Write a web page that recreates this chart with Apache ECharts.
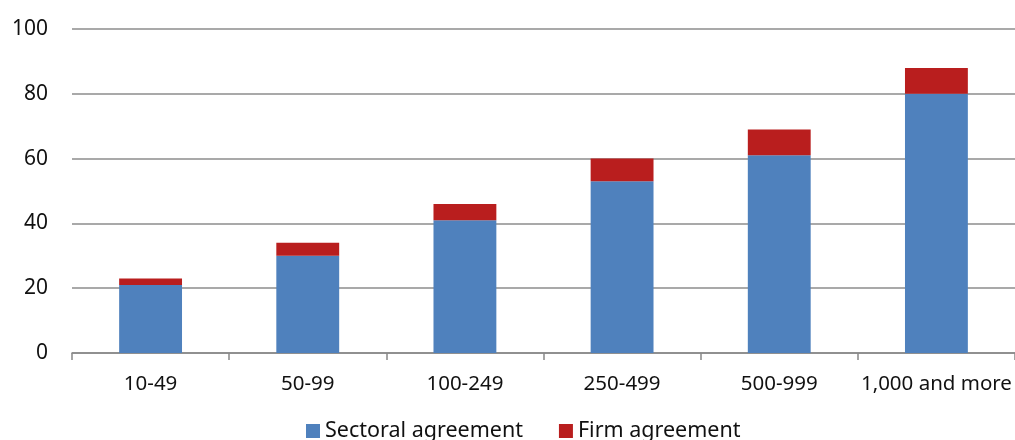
<!DOCTYPE html>
<html><head><meta charset="utf-8">
<script src="https://cdn.jsdelivr.net/npm/echarts@6/dist/echarts.min.js"></script>
<style>html,body{margin:0;padding:0;background:#fff}#c{width:1015px;height:440px}</style>
</head><body><div id="c"></div>
<script>
const categories = ['10-49','50-99','100-249','250-499','500-999','1,000 and more'];
const sectoral = [21, 30, 41, 53, 61, 80];
const firm = [2, 4, 5, 7, 8, 8];
const yTicks = [0, 20, 40, 60, 80, 100];

const chart = echarts.init(document.getElementById('c'), null, {renderer:'canvas'});
const font = '"Noto Sans","Open Sans",sans-serif';
chart.setOption({
  animation: false,
  textStyle: {fontFamily: font},
  grid: {left: 72, right: 0, top: 29, bottom: 87, containLabel: false},
  legend: {
    bottom: -7, left: 301, itemGap: 36, itemWidth: 14, itemHeight: 14,
    icon: 'rect',
    textStyle: {fontSize: 21.5, color: '#111', fontFamily: font},
    data: ['Sectoral agreement','Firm agreement']
  },
  xAxis: {
    type: 'category', data: categories,
    axisLine: {lineStyle: {color: '#888', width: 1.5}},
    axisTick: {show: true, alignWithLabel: false, length: 7, lineStyle: {color: '#888', width: 1.5}},
    axisLabel: {interval: 0, fontSize: 20.5, color: '#111', margin: 21, fontFamily: font}
  },
  yAxis: {
    type: 'value', min: yTicks[0], max: yTicks[yTicks.length-1], interval: 20,
    axisLine: {show: false}, axisTick: {show: false},
    splitLine: {lineStyle: {color: '#8c8c8c', width: 1.5}},
    axisLabel: {fontSize: 21, color: '#111', margin: 24, fontFamily: font}
  },
  series: [
    {name: 'Sectoral agreement', type: 'bar', stack: 's', data: sectoral, barWidth: '40%',
     itemStyle: {color: '#4f81bd'}},
    {name: 'Firm agreement', type: 'bar', stack: 's', data: firm, barWidth: '40%',
     itemStyle: {color: '#b91e1e'}}
  ]
});
</script></body></html>
